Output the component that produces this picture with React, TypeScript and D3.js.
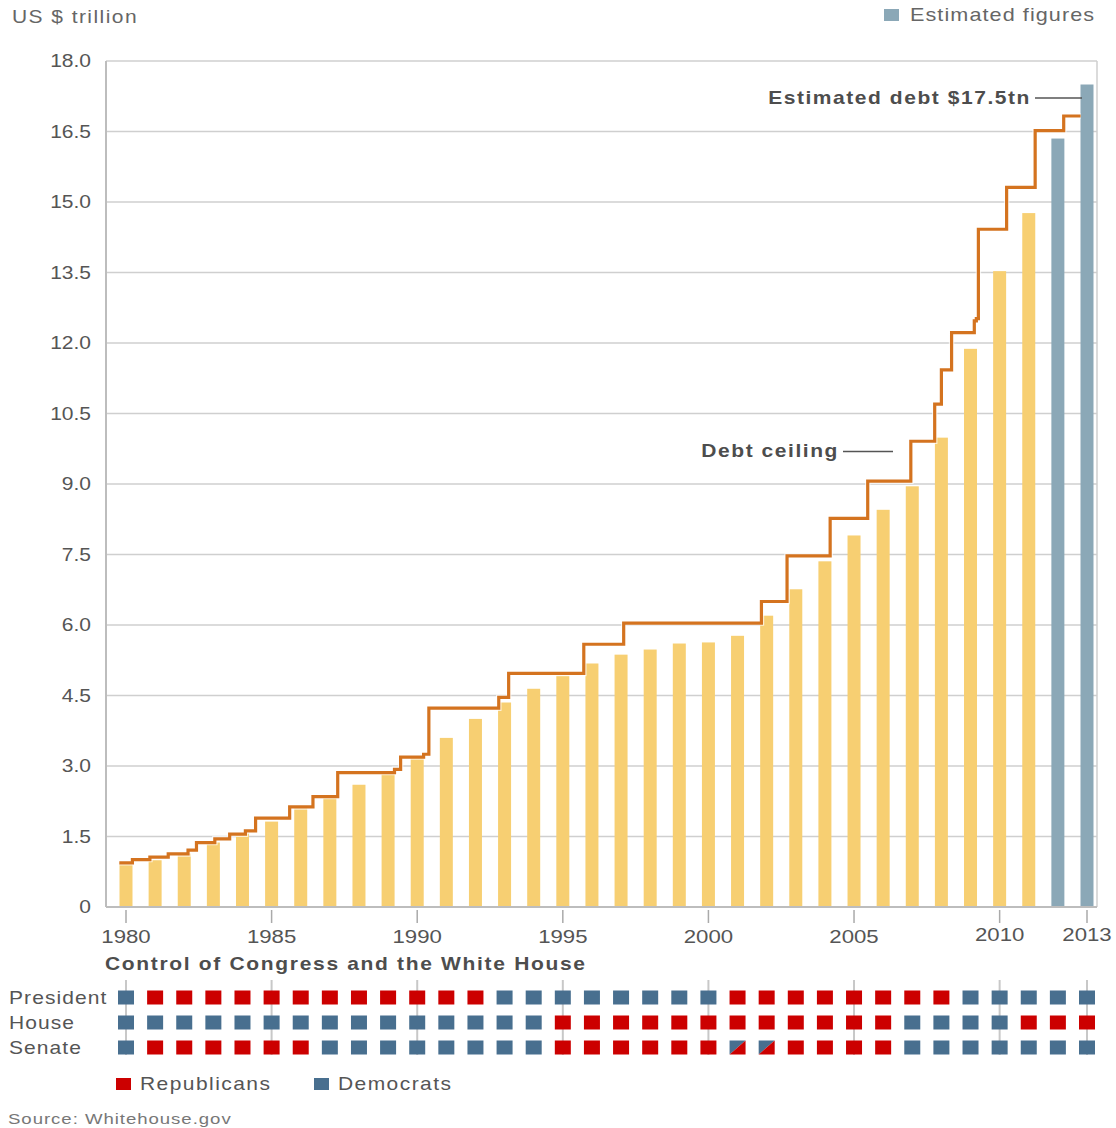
import * as d3 from 'd3';

// fiscal-year gross federal debt, US$ trillion (2012, 2013 estimated)
const years = d3.range(1980, 2014);
const debt = [
  0.909, 0.995, 1.137, 1.372, 1.565, 1.817, 2.121, 2.346, 2.601, 2.868,
  3.206, 3.598, 4.002, 4.351, 4.643, 4.921, 5.181, 5.369, 5.478, 5.606,
  5.629, 5.77, 6.198, 6.76, 7.355, 7.905, 8.451, 8.951, 9.986, 11.876,
  13.529, 14.764, 16.35, 17.5,
];
const estimatedYears = [2012, 2013];

// debt ceiling steps (position on the year axis, value)
const ceilingDates = [
  1979.77, 1980.22, 1980.82, 1981.45, 1982.13, 1982.42, 1983.05, 1983.56, 1984.1, 1984.45,
  1985.62, 1986.42, 1987.27, 1989.22, 1989.43, 1990.22, 1990.4, 1992.8, 1993.14, 1995.72,
  1997.09, 2001.82, 2002.7, 2004.18, 2005.47, 2006.95, 2007.77, 2008.0, 2008.35, 2009.13,
  2009.2, 2009.27, 2010.24, 2011.22, 2012.2, 2012.78,
];
const ceilingValues = [
  0.94, 1.01, 1.06, 1.13, 1.21, 1.37, 1.45, 1.55, 1.62, 1.89,
  2.13, 2.35, 2.86, 2.93, 3.19, 3.25, 4.23, 4.46, 4.97, 5.59,
  6.04, 6.5, 7.47, 8.27, 9.06, 9.91, 10.7, 11.43, 12.22, 12.47,
  12.52, 14.42, 15.31, 16.52, 16.83, 16.83,
];

const yTicks = [0, 1.5, 3, 4.5, 6, 7.5, 9, 10.5, 12, 13.5, 15, 16.5, 18];
const yTickLabels = ['0', '1.5', '3.0', '4.5', '6.0', '7.5', '9.0', '10.5', '12.0', '13.5', '15.0', '16.5', '18.0'];
const xLabelYears = [1980, 1985, 1990, 1995, 2000, 2005, 2010, 2013];

// R = Republican, D = Democrat, S = split
const rowNames = ['President', 'House', 'Senate'];
const president = [
  'D', 'R', 'R', 'R', 'R', 'R', 'R', 'R', 'R', 'R', 'R', 'R', 'R', 'D', 'D', 'D', 'D',
  'D', 'D', 'D', 'D', 'R', 'R', 'R', 'R', 'R', 'R', 'R', 'R', 'D', 'D', 'D', 'D', 'D',
];
const house = [
  'D', 'D', 'D', 'D', 'D', 'D', 'D', 'D', 'D', 'D', 'D', 'D', 'D', 'D', 'D', 'R', 'R',
  'R', 'R', 'R', 'R', 'R', 'R', 'R', 'R', 'R', 'R', 'D', 'D', 'D', 'D', 'R', 'R', 'R',
];
const senate = [
  'D', 'R', 'R', 'R', 'R', 'R', 'R', 'D', 'D', 'D', 'D', 'D', 'D', 'D', 'D', 'R', 'R',
  'R', 'R', 'R', 'R', 'S', 'S', 'R', 'R', 'R', 'R', 'D', 'D', 'D', 'D', 'D', 'D', 'D',
];

const RED = '#cc0000';
const BLUE = '#486f8f';
const BAR = '#f7cf72';
const EST = '#8ba8b7';
const CEIL = '#d4731f';
const FONT = '"Liberation Sans", Arial, Helvetica, sans-serif';

const T = ({ x, y, anchor = 'start', size = 17.5, weight = 'normal', fill = '#555', ls = 1.2, children }: any) => (
  <text
    transform={`translate(${x},${y}) scale(1.2,1)`}
    textAnchor={anchor}
    fontSize={size}
    fontWeight={weight}
    fill={fill}
    style={{ letterSpacing: `${ls}px` }}
  >
    {children}
  </text>
);

export default function App() {
  const width = 1116;
  const height = 1128;
  const plot = { left: 106, right: 1097, top: 61, bottom: 907 };

  const x = d3.scaleLinear().domain([1980, 2013]).range([126, 1087]);
  const y = d3.scaleLinear().domain([0, 18]).range([plot.bottom, plot.top]);
  const barW = 13;

  const ceilingLine = d3
    .line<number>()
    .x((_, i) => x(ceilingDates[i]))
    .y((v) => y(v))
    .curve(d3.curveStepAfter)(ceilingValues);

  const rows = [president, house, senate];
  const rowY = [997.5, 1022.5, 1047.5];
  const sqW = 16;
  const sqH = 14;

  return (
    <svg
      width={width}
      height={height}
      style={{ position: 'absolute', left: 0, top: 0, background: '#fff' }}
      fontFamily={FONT}
    >
      <T x={12} y={22.5} fill="#666">US $ trillion</T>
      <rect x={884} y={9} width={15} height={12} fill={EST} />
      <T x={910} y={21} size={18} fill="#666" ls={0.9}>Estimated figures</T>

      {/* grid */}
      {yTicks.map((t, i) => (
        <g key={t}>
          <line x1={plot.left} x2={plot.right} y1={y(t)} y2={y(t)} stroke="#cfcfcf" strokeWidth={1.5} />
          <T x={91} y={y(t) + 6} anchor="end" fill="#555" ls={0}>{yTickLabels[i]}</T>
        </g>
      ))}
      <line x1={plot.left} x2={plot.left} y1={plot.top} y2={plot.bottom} stroke="#bdbdbd" strokeWidth={2} />
      <line x1={plot.right} x2={plot.right} y1={plot.top} y2={plot.bottom} stroke="#cfcfcf" strokeWidth={1.5} />
      <line x1={plot.left} x2={plot.right} y1={plot.bottom} y2={plot.bottom} stroke="#bdbdbd" strokeWidth={2} />

      {/* bars */}
      {years.map((yr, i) => (
        <rect
          key={yr}
          x={x(yr) - barW / 2}
          y={y(debt[i])}
          width={barW}
          height={y(0) - y(debt[i]) - 1}
          fill={estimatedYears.includes(yr) ? EST : BAR}
        />
      ))}

      {/* debt ceiling */}
      <path d={ceilingLine || ''} fill="none" stroke="#fff" strokeOpacity={0.7} strokeWidth={5.5} />
      <path d={ceilingLine || ''} fill="none" stroke={CEIL} strokeWidth={3.2} />

      {/* annotations */}
      <T x={1031} y={104} anchor="end" weight="bold" fill="#4d4d4d" ls={1.3}>Estimated debt $17.5tn</T>
      <line x1={1035} x2={1082} y1={98} y2={98} stroke="#555" strokeWidth={1.5} />
      <T x={839} y={457} anchor="end" weight="bold" fill="#4d4d4d" ls={1.3}>Debt ceiling</T>
      <line x1={843} x2={893} y1={451.5} y2={451.5} stroke="#555" strokeWidth={1.5} />

      {/* x axis */}
      {xLabelYears.map((yr) => (
        <g key={yr}>
          <line x1={x(yr)} x2={x(yr)} y1={910} y2={923} stroke="#aaa" strokeWidth={1.5} />
          <T x={x(yr)} y={yr >= 2010 ? 941 : 943} anchor="middle" size={18.5} fill="#555" ls={0}>{yr}</T>
        </g>
      ))}

      {/* control of congress */}
      <T x={105} y={970} weight="bold" fill="#4d4d4d" ls={1.4}>Control of Congress and the White House</T>
      {xLabelYears.map((yr) => (
        <line key={yr} x1={x(yr)} x2={x(yr)} y1={980} y2={1055} stroke="#c8c8c8" strokeWidth={2} />
      ))}
      {rows.map((row, r) => (
        <g key={rowNames[r]}>
          <T x={9} y={rowY[r] + 6} fill="#555" ls={0.9}>{rowNames[r]}</T>
          {row.map((p, i) => {
            const x0 = x(years[i]) - sqW / 2;
            const y0 = rowY[r] - sqH / 2;
            if (p === 'S') {
              return (
                <g key={i}>
                  <path d={`M${x0},${y0}H${x0 + sqW}L${x0},${y0 + sqH}Z`} fill={BLUE} />
                  <path d={`M${x0 + sqW},${y0}V${y0 + sqH}H${x0}Z`} fill={RED} />
                </g>
              );
            }
            return <rect key={i} x={x0} y={y0} width={sqW} height={sqH} fill={p === 'R' ? RED : BLUE} />;
          })}
        </g>
      ))}

      {/* party legend */}
      <rect x={116} y={1078} width={15} height={12} fill={RED} />
      <T x={140} y={1090} fill="#555">Republicans</T>
      <rect x={314} y={1078} width={15} height={12} fill={BLUE} />
      <T x={338} y={1090} fill="#555">Democrats</T>

      <T x={8} y={1124} size={15.5} fill="#777" ls={0.8}>Source: Whitehouse.gov</T>
    </svg>
  );
}
